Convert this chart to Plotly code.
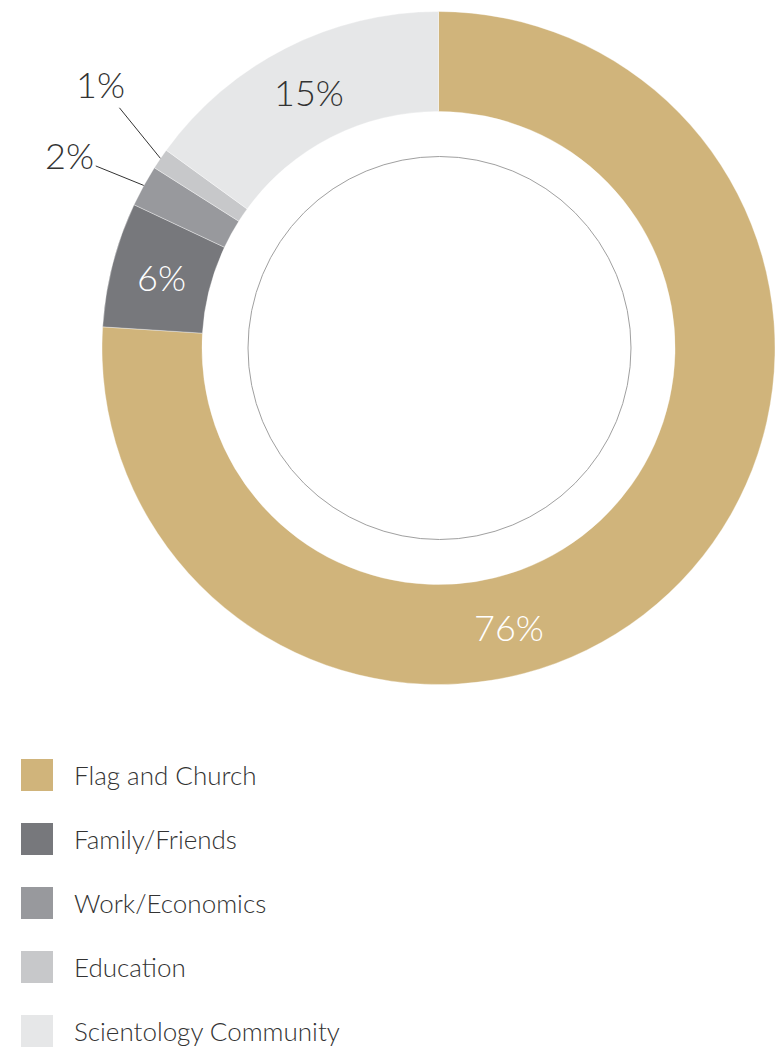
import math
import plotly.graph_objects as go

categories = ["Flag and Church", "Family/Friends", "Work/Economics", "Education", "Scientology Community"]
values = [76, 6, 2, 1, 15]
colors = ["#D0B47B", "#77787C", "#98999D", "#C7C8CA", "#E6E7E8"]
label_colors = ["#FFFFFF", "#FFFFFF", "#333333", "#333333", "#333333"]

W, H = 775, 1053
CX, CY, R = 439.5, 348.0, 337.5
HOLE = 0.703
FONT = "Lato"


def px(x):
    return x / W


def py(y):
    return 1 - y / H


fig = go.Figure()
fig.add_trace(go.Pie(
    labels=categories,
    values=values,
    marker=dict(colors=colors, line=dict(color="rgba(255,255,255,0.6)", width=0.6)),
    hole=HOLE,
    sort=False,
    direction="clockwise",
    rotation=0,
    textinfo="none",
    hoverinfo="label+percent",
    showlegend=False,
    domain=dict(x=[px(CX - R), min(1.0, px(CX + R))], y=[py(CY + R), py(CY - R)]),
))

total = sum(values)
annotations = []
cum = 0.0
mid_angles = []
for v in values:
    a0 = cum / total * 360
    cum += v
    a1 = cum / total * 360
    mid_angles.append((a0 + a1) / 2)

r_mid = R * (1 + HOLE) / 2
# inside labels (76% placed further round toward the bottom, as in the original)
inside = {0: 166.0, 1: mid_angles[1], 4: mid_angles[4]}
for i, ang in inside.items():
    t = math.radians(ang)
    x = CX + r_mid * math.sin(t)
    y = CY - r_mid * math.cos(t)
    annotations.append(dict(
        x=px(x), y=py(y), xref="paper", yref="paper", showarrow=False,
        text=f"{values[i]}%", font=dict(family=FONT, size=36, color=label_colors[i], weight=300),
        xanchor="center", yanchor="middle",
    ))

# outside labels with leader lines
offsets = {2: (-74, -30), 3: (-60, -74)}
for i, (ax, ay) in offsets.items():
    t = math.radians(mid_angles[i])
    x = CX + R * math.sin(t)
    y = CY - R * math.cos(t)
    annotations.append(dict(
        x=px(x), y=py(y), xref="paper", yref="paper", showarrow=True,
        ax=ax, ay=ay, arrowhead=0, arrowwidth=1, arrowcolor="#333333", standoff=0,
        text=f"{values[i]}%", font=dict(family=FONT, size=36, color="#333333", weight=300),
        xanchor="center", yanchor="middle",
    ))

shapes = []
# thin inner circle
RC = 191.5
shapes.append(dict(type="circle", xref="paper", yref="paper",
                   x0=px(CX - RC), x1=px(CX + RC), y0=py(CY + RC), y1=py(CY - RC),
                   line=dict(color="#A0A0A0", width=1)))

# legend
for i, (cat, col) in enumerate(zip(categories, colors)):
    yc = 775 + 64 * i
    shapes.append(dict(type="rect", xref="paper", yref="paper",
                       x0=px(21), x1=px(53), y0=py(yc + 16), y1=py(yc - 16),
                       fillcolor=col, line=dict(width=0)))
    annotations.append(dict(
        x=px(72), y=py(yc), xref="paper", yref="paper", showarrow=False,
        text=cat, font=dict(family=FONT, size=26, color="#333333", weight=300),
        xanchor="left", yanchor="middle",
    ))

fig.update_layout(
    width=W, height=H,
    margin=dict(l=0, r=0, t=0, b=0),
    paper_bgcolor="white", plot_bgcolor="white",
    annotations=annotations, shapes=shapes,
    showlegend=False,
)

fig.write_html(
    "out.html",
    config={"displayModeBar": False},
    post_script="document.body.style.margin='0';document.body.style.padding='0';document.body.style.overflow='hidden';",
)
